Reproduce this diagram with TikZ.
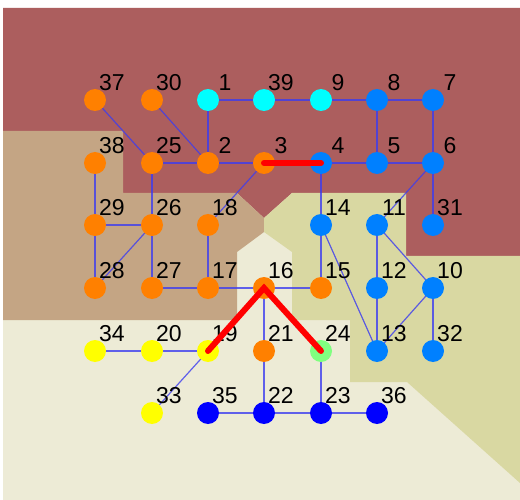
\documentclass[tikz,border=0pt]{standalone}
\usepackage{fontspec}
\setmainfont{Liberation Sans}
\usetikzlibrary{calc}
\pgfdeclarelayer{bg}
\pgfdeclarelayer{edges}
\pgfdeclarelayer{top}
\pgfsetlayers{bg,edges,main,top}
\definecolor{maroon}{RGB}{172,94,94}
\definecolor{tanreg}{RGB}{196,165,132}
\definecolor{olivereg}{RGB}{217,216,162}
\definecolor{creamreg}{RGB}{237,235,214}
\definecolor{vorange}{RGB}{255,128,0}
\definecolor{vcyan}{RGB}{0,255,255}
\definecolor{vazure}{RGB}{0,128,255}
\definecolor{vyellow}{RGB}{255,255,0}
\definecolor{vgreen}{RGB}{128,255,128}
\definecolor{vblue}{RGB}{0,0,255}
\definecolor{edgeblue}{RGB}{60,60,240}
\tikzset{
  vtx/.style={circle, inner sep=0pt, minimum size=22pt, draw=none},
  lab/.style={anchor=base, inner sep=0pt, font=\fontsize{23}{27}\selectfont},
  edge/.style={draw=edgeblue, draw opacity=0.8, line width=1.2pt},
  hot/.style={draw=red, line width=6pt, line cap=round},
}
\begin{document}
\begin{tikzpicture}[x=1pt,y=-1pt]
\useasboundingbox (0,0) rectangle (520,500);
\begin{pgfonlayer}{bg}
\fill[white] (0,0) rectangle (520,500);
\fill[creamreg] (3,8) rectangle (520,500);
\fill[maroon] (3,8) -- (520,8) -- (520,256) -- (406,256) -- (406,193) -- (292,193) -- (264,218) -- (237,193) -- (123,193) -- (123,131) -- (3,131) -- cycle;
\fill[tanreg] (3,131) -- (123,131) -- (123,193) -- (237,193) -- (264,218) -- (264,232) -- (237,252) -- (237,320) -- (3,320) -- cycle;
\fill[olivereg] (264,218) -- (292,193) -- (406,193) -- (406,256) -- (520,256) -- (520,483) -- (407,382) -- (350,382) -- (350,320) -- (292,320) -- (292,252) -- (264,232) -- cycle;
\end{pgfonlayer}
\foreach \i/\x/\y/\c in {
 37/95/100/vorange, 30/152/100/vorange, 1/208/100/vcyan, 39/264/100/vcyan, 9/321/100/vcyan, 8/377/100/vazure, 7/433/100/vazure,
 38/95/163/vorange, 25/152/163/vorange, 2/208/163/vorange, 3/264/163/vorange, 4/321/163/vazure, 5/377/163/vazure, 6/433/163/vazure,
 29/95/225/vorange, 26/152/225/vorange, 18/208/225/vorange, 14/321/225/vazure, 11/377/225/vazure, 31/433/225/vazure,
 28/95/288/vorange, 27/152/288/vorange, 17/208/288/vorange, 16/264/288/vorange, 15/321/288/vorange, 12/377/288/vazure, 10/433/288/vazure,
 34/95/351/vyellow, 20/152/351/vyellow, 19/208/351/vyellow, 21/264/351/vorange, 24/321/351/vgreen, 13/377/351/vazure, 32/433/351/vazure,
 33/152/413/vyellow, 35/208/413/vblue, 22/264/413/vblue, 23/321/413/vblue, 36/377/413/vblue}{
  \node[vtx, fill=\c] (n\i) at (\x,\y) {};
  \node[lab] (l\i) at ($(n\i)+(17,-9.3)$) {\i};
}
\begin{pgfonlayer}{edges}
\foreach \a/\b in {1/39, 39/9, 9/8, 8/7, 1/2, 8/5, 7/6, 37/25, 30/2, 25/2, 2/3, 4/5, 5/6, 3/18,
  38/29, 25/26, 4/14, 6/11, 6/31, 29/26, 26/28, 29/28, 26/27, 18/17, 27/17, 17/16, 16/15,
  14/15, 14/13, 11/12, 11/10, 12/13, 10/13, 10/32, 34/20, 20/19, 19/33, 16/21, 21/22,
  24/23, 35/22, 22/23, 23/36}{
  \draw[edge] (n\a.center) -- (n\b.center);
}
\end{pgfonlayer}
\begin{pgfonlayer}{top}
\draw[hot] (n3.center) -- (n4.center);
\draw[hot] (n19.center) -- (n16.center) -- (n24.center);
\end{pgfonlayer}
\end{tikzpicture}
\end{document}
